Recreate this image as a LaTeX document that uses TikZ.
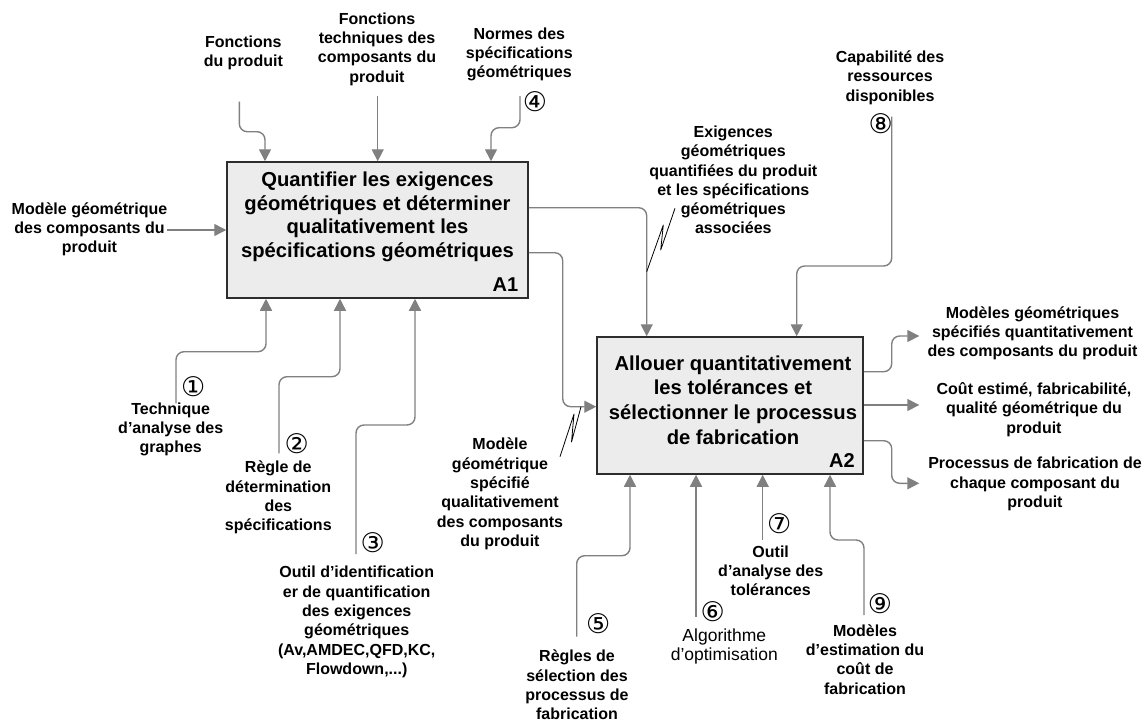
\documentclass[tikz,border=0pt]{standalone}
\usepackage{fontspec}
\setmainfont{Liberation Sans}
\newfontfamily\circfont{DejaVu Sans}
\usetikzlibrary{arrows.meta}
\definecolor{arrowgray}{RGB}{128,128,128}
\definecolor{boxfill}{RGB}{236,236,236}
\definecolor{boxline}{RGB}{45,45,45}
\begin{document}
\begin{tikzpicture}[x=1pt,y=-1pt,
  flow/.style={draw=arrowgray, line width=1.4pt, rounded corners=8pt, -{Triangle[length=12pt,width=12pt]}},
  squig/.style={draw=black, line width=0.8pt, line join=round},
  procbox/.style={draw=boxline, fill=boxfill, line width=1.5pt, inner sep=0pt},
  lbl/.style={align=center, inner sep=0pt, font=\bfseries\fontsize{16}{19.3}\selectfont},
  lblreg/.style={align=center, inner sep=0pt, font=\fontsize{17.5}{19}\selectfont},
  num/.style={inner sep=0pt, font=\circfont\fontsize{27}{27}\selectfont},
  ttl/.style={align=center, inner sep=0pt, font=\bfseries\fontsize{20.2}{23.5}\selectfont},
  ttlb/.style={align=center, inner sep=0pt, font=\bfseries\fontsize{20.2}{24.7}\selectfont},
  tag/.style={inner sep=0pt, anchor=east, font=\bfseries\fontsize{20}{20}\selectfont}]
\useasboundingbox (0,0) rectangle (1148,723);

% boxes
\node[procbox, minimum width=301pt, minimum height=136pt] (A1) at (377.5,230) {};
\node[ttl] (A1t) at (377.5,216.7) {Quantifier les exigences\\géométriques et déterminer\\qualitativement les\\spécifications géométriques};
\node[tag] (A1n) at (518.5,285) {A1};
\node[procbox, minimum width=266pt, minimum height=137pt] (A2) at (730,405.5) {};
\node[ttlb] (A2t) at (733,400) {Allouer quantitativement\\les tolérances et\\sélectionner le processus\\de fabrication};
\node[tag] (A2n) at (855,461) {A2};

% labels
\node[lbl] (fdp) at (243.3,52.8) {Fonctions\\du produit};
\node[lbl] (ftc) at (377,49.2) {Fonctions\\techniques des\\composants du\\produit};
\node[lbl] (nsg) at (519.3,54.2) {Normes des\\spécifications\\géométriques};
\node[lbl] (mgc) at (89.5,229.3) {Modèle géométrique\\des composants du\\produit};
\node[lbl] (egq) at (733.3,180) {Exigences\\géométriques\\quantifiées du produit\\et les spécifications\\géométriques\\associées};
\node[lbl] (cap) at (890,77.5) {Capabilité des\\ressources\\disponibles};
\node[lbl] (tag1) at (170.7,429.5) {Technique\\d’analyse des\\graphes};
\node[lbl] (rds) at (278.3,497.5) {Règle de\\détermination\\des\\spécifications};
\node[lbl] (oid) at (356.7,622) {Outil d’identification\\er de quantification\\des exigences\\géométriques\\(Av,AMDEC,QFD,KC,\\Flowdown,...)};
\node[lbl] (mgs) at (500,494) {Modèle\\géométrique\\spécifié\\qualitativement\\des composants\\du produit};
\node[lbl] (rsp) at (577,685) {Règles de\\sélection des\\processus de\\fabrication};
\node[lblreg] (alg) at (724.3,646.5) {Algorithme\\d’optimisation};
\node[lbl] (oat) at (770.7,570.6) {Outil\\d’analyse des\\tolérances};
\node[lbl] (mec) at (865,659.5) {Modèles\\d’estimation du\\coût de\\fabrication};
\node[lbl] (mgq) at (1032.5,333.3) {Modèles géométriques\\spécifiés quantitativement\\des composants du produit};
\node[lbl] (cef) at (1034,409.5) {Coût estimé, fabricabilité,\\qualité géométrique du\\produit};
\node[lbl] (pfc) at (1035,484) {Processus de fabrication de\\chaque composant du\\produit};

% circled numbers
\node[num] (n1) at (193.3,387) {①};
\node[num] (n2) at (296.7,443.3) {②};
\node[num] (n3) at (372.7,542.7) {③};
\node[num] (n4) at (535,101.7) {④};
\node[num] (n5) at (598.3,623.3) {⑤};
\node[num] (n6) at (712.7,611.5) {⑥};
\node[num] (n7) at (779.3,524) {⑦};
\node[num] (n8) at (880.7,123.3) {⑧};
\node[num] (n9) at (880,604) {⑨};

% inputs to A1 (top)
\coordinate (s1) at (239.3,101.7); \coordinate (k1) at (265,131.7);
\draw[flow] (s1) |- (k1) -- (k1 |- A1.north);
\coordinate (s2) at (377.7,96);
\draw[flow] (s2) -- (s2 |- A1.north);
\coordinate (s4) at (520,96); \coordinate (k4) at (491,127.7);
\draw[flow] (s4) |- (k4) -- (k4 |- A1.north);
% input to A1 (left)
\coordinate (s0) at (167,230);
\draw[flow] (s0) -- (s0 -| A1.west);
% A1 outputs
\coordinate (o1) at (646.7,207.7);
\draw[flow] (o1 -| A1.east) -- (o1) -- (o1 |- A2.north);
\coordinate (o2) at (562.7,252.7); \coordinate (o2b) at (562.7,406.7);
\draw[flow] (o2 -| A1.east) -- (o2) -- (o2b) -- (o2b -| A2.west);
% capability
\coordinate (s8) at (891.7,116.7); \coordinate (k8) at (796.7,266);
\draw[flow] (s8) |- (k8) -- (k8 |- A2.north);
% mechanisms A1
\coordinate (m1) at (176,403.3); \coordinate (h1) at (266,351.7);
\draw[flow] (m1) |- (h1) -- (h1 |- A1.south);
\coordinate (m2) at (279,453.3); \coordinate (h2) at (340,376.7);
\draw[flow] (m2) |- (h2) -- (h2 |- A1.south);
\coordinate (m3) at (356,554); \coordinate (h3) at (415,425);
\draw[flow] (m3) |- (h3) -- (h3 |- A1.south);
% mechanisms A2
\coordinate (m5) at (576.7,636.7); \coordinate (h5) at (630,555.7);
\draw[flow] (m5) |- (h5) -- (h5 |- A2.south);
\coordinate (m6) at (696,616.7);
\draw[flow] (m6) -- (m6 |- A2.south);
\coordinate (m7) at (762.7,540);
\draw[flow] (m7) -- (m7 |- A2.south);
\coordinate (m9) at (864,615); \coordinate (h9) at (830,540);
\draw[flow] (m9) |- (h9) -- (h9 |- A2.south);
% outputs A2
\coordinate (q1) at (891.7,371.7); \coordinate (t1) at (919.3,336);
\draw[flow] (q1 -| A2.east) -- (q1) |- (t1);
\coordinate (t2) at (919.3,405);
\draw[flow] (t2 -| A2.east) -- (t2);
\coordinate (q3) at (891.7,440.7); \coordinate (t3) at (919.3,483.3);
\draw[flow] (q3 -| A2.east) -- (q3) |- (t3);

% squiggles
\coordinate (z1) at (646.7,271.7);
\draw[squig] (z1) -- (663.3,225) -- (660.7,250) -- (675,208.3);
\coordinate (z2) at (560,456.7);
\draw[squig] (z2) -- (574,414) -- (571.5,442) -- (581,406.7);
\end{tikzpicture}
\end{document}
